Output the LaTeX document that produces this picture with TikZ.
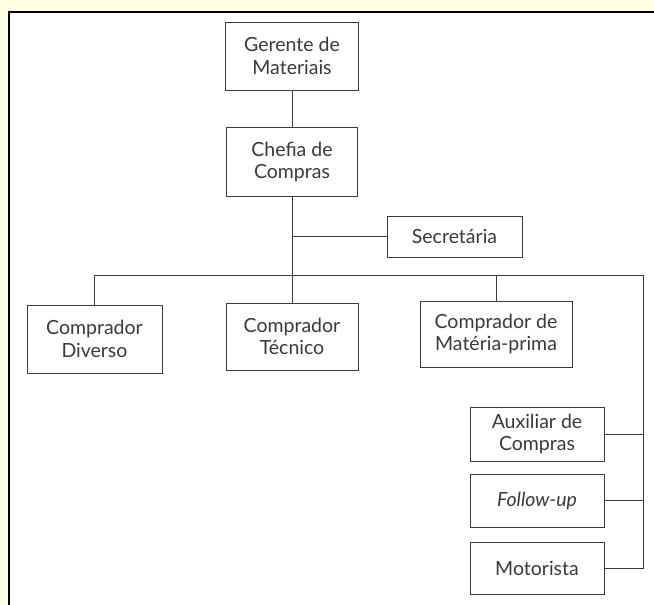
\documentclass[tikz,border=0pt]{standalone}
\usepackage{fontspec}
\setmainfont{Lato}
\definecolor{bgyellow}{HTML}{FFFFE3}
\definecolor{txtgray}{HTML}{3A3A3A}
\definecolor{linegray}{HTML}{3C3C3C}
\begin{document}
\begin{tikzpicture}[x=1pt,y=-1pt,
  orgbox/.style={draw=linegray,line width=1pt,fill=white,inner sep=0pt,align=center,
    text=txtgray,font=\fontsize{19.5}{22.5}\selectfont},
  conn/.style={draw=linegray,line width=1pt}]
\useasboundingbox (0,0) rectangle (654,605);
\fill[bgyellow] (0,0) rectangle (654,605);
\fill[white] (9,12) rectangle (654,605);
\draw[black,line width=2pt] (9,605) -- (9,12) -- (654,12);

\node[orgbox,minimum width=133pt,minimum height=68pt] (ger) at (292,56) {Gerente de\\Materiais};
\node[orgbox,minimum width=131pt,minimum height=69pt] (che) at (292,162) {Chefia de\\Compras};
\node[orgbox,minimum width=135pt,minimum height=41pt] (sec) at (454.5,236.5) {Secretária};
\node[orgbox,minimum width=135pt,minimum height=68pt] (div) at (94.5,339) {Comprador\\Diverso};
\node[orgbox,minimum width=132pt,minimum height=67pt] (tec) at (292,336.5) {Comprador\\Técnico};
\node[orgbox,minimum width=152pt,minimum height=66pt] (mat) at (496,334) {Comprador de\\Matéria-prima};
\node[orgbox,minimum width=134pt,minimum height=54pt] (aux) at (537,434) {Auxiliar de\\Compras};
\node[orgbox,minimum width=134pt,minimum height=53pt] (fol) at (537,500.5) {\textit{Follow-up}};
\node[orgbox,minimum width=134pt,minimum height=52pt] (mot) at (537,568) {Motorista};

\coordinate (busR) at (643,275);
\draw[conn] (ger) -- (che);
\draw[conn] (che) -- (tec);
\draw[conn] (sec.west) -- (sec.west -| che.south);
\draw[conn] (div.north) |- (busR) |- (mot.east);
\draw[conn] (mat.north) -- (mat.north |- busR);
\draw[conn] (aux.east) -- (aux.east -| busR);
\draw[conn] (fol.east) -- (fol.east -| busR);
\end{tikzpicture}
\end{document}
